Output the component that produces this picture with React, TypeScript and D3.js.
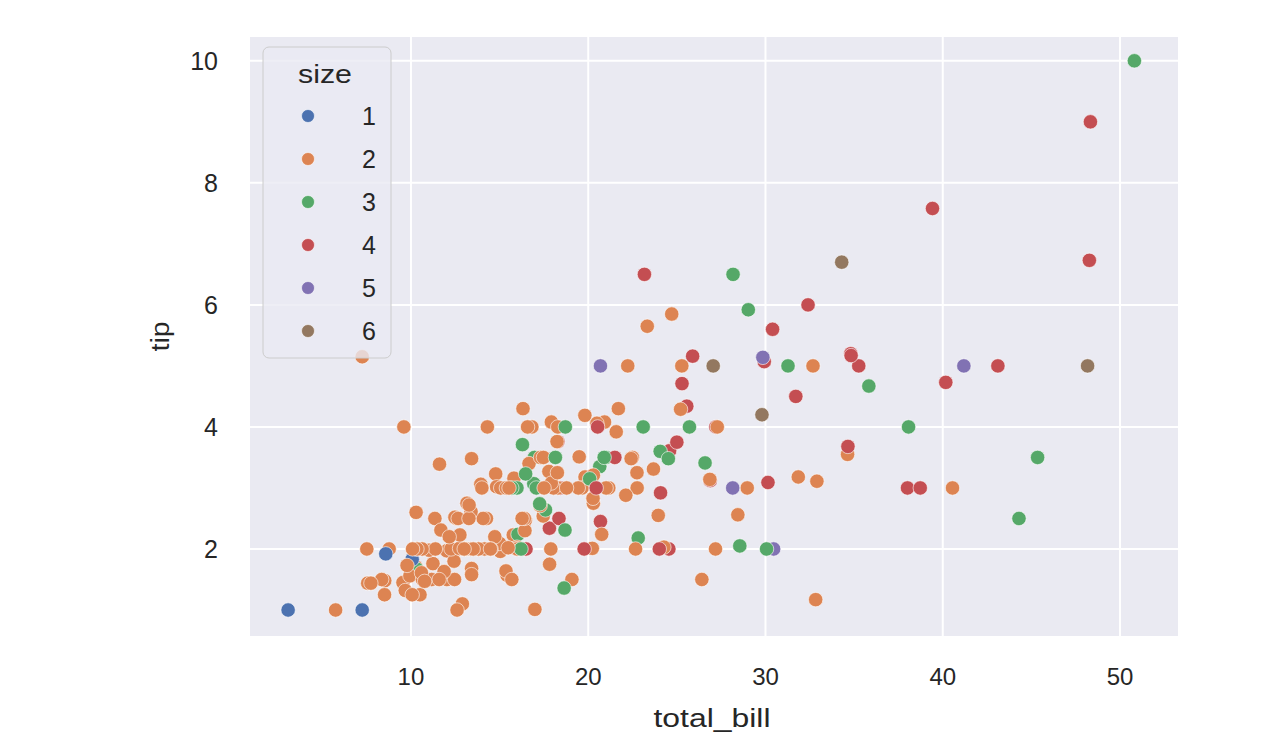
import { useEffect, useRef } from 'react';
import * as d3 from 'd3';

const WIDTH = 1280;
const HEIGHT = 753;

// tips dataset: total_bill, tip, size (party size)
const totalBill = [
  16.99, 10.34, 21.01, 23.68, 24.59, 25.29, 8.77, 26.88, 15.04, 14.78, 10.27, 35.26, 15.42, 18.43, 14.83, 21.58, 10.33, 16.29, 16.97, 20.65,
  17.92, 20.29, 15.77, 39.42, 19.82, 17.81, 13.37, 12.69, 21.7, 19.65, 9.55, 18.35, 15.06, 20.69, 17.78, 24.06, 16.31, 16.93, 18.69, 31.27,
  16.04, 17.46, 13.94, 9.68, 30.4, 18.29, 22.23, 32.4, 28.55, 18.04, 12.54, 10.29, 34.81, 9.94, 25.56, 19.49, 38.01, 26.41, 11.24, 48.27,
  20.29, 13.81, 11.02, 18.29, 17.59, 20.08, 16.45, 3.07, 20.23, 15.01, 12.02, 17.07, 26.86, 25.28, 14.73, 10.51, 17.92, 27.2, 22.76, 17.29,
  19.44, 16.66, 10.07, 32.68, 15.98, 34.83, 13.03, 18.28, 24.71, 21.16, 28.97, 22.49, 5.75, 16.32, 22.75, 40.17, 27.28, 12.03, 21.01, 12.46,
  11.35, 15.38, 44.3, 22.42, 20.92, 15.36, 20.49, 25.21, 18.24, 14.31, 14.0, 7.25, 38.07, 23.95, 25.71, 17.31, 29.93, 10.65, 12.43, 24.08,
  11.69, 13.42, 14.26, 15.95, 12.48, 29.8, 8.52, 14.52, 11.38, 22.82, 19.08, 20.27, 11.17, 12.26, 18.26, 8.51, 10.33, 14.15, 16.0, 13.16,
  17.47, 34.3, 41.19, 27.05, 16.43, 8.35, 18.64, 11.87, 9.78, 7.51, 14.07, 13.13, 17.26, 24.55, 19.77, 29.85, 48.17, 25.0, 13.39, 16.49,
  21.5, 12.66, 16.21, 13.81, 17.51, 24.52, 20.76, 31.71, 10.59, 10.63, 50.81, 15.81, 7.25, 31.85, 16.82, 32.9, 17.89, 14.48, 9.6, 34.63,
  34.65, 23.33, 45.35, 23.17, 40.55, 20.69, 20.9, 30.46, 18.15, 23.1, 15.69, 19.81, 28.44, 15.48, 16.58, 7.56, 10.34, 43.11, 13.0, 13.51,
  18.71, 12.74, 13.0, 16.4, 20.53, 16.47, 26.59, 38.73, 24.27, 12.76, 30.06, 25.89, 48.33, 13.27, 28.17, 12.9, 28.15, 11.59, 7.74, 30.14,
  12.16, 13.42, 8.58, 15.98, 13.42, 16.27, 10.09, 20.45, 13.28, 22.12, 24.01, 15.69, 11.61, 10.77, 15.53, 10.07, 12.6, 32.83, 35.83, 29.03,
  27.18, 22.67, 17.82, 18.78,
];

const tip = [
  1.01, 1.66, 3.5, 3.31, 3.61, 4.71, 2.0, 3.12, 1.96, 3.23, 1.71, 5.0, 1.57, 3.0, 3.02, 3.92, 1.67, 3.71, 3.5, 3.35,
  4.08, 2.75, 2.23, 7.58, 3.18, 2.34, 2.0, 2.0, 4.3, 3.0, 1.45, 2.5, 3.0, 2.45, 3.27, 3.6, 2.0, 3.07, 2.31, 5.0,
  2.24, 2.54, 3.06, 1.32, 5.6, 3.0, 5.0, 6.0, 2.05, 3.0, 2.5, 2.6, 5.2, 1.56, 4.34, 3.51, 3.0, 1.5, 1.76, 6.73,
  3.21, 2.0, 1.98, 3.76, 2.64, 3.15, 2.47, 1.0, 2.01, 2.09, 1.97, 3.0, 3.14, 5.0, 2.2, 1.25, 3.08, 4.0, 3.0, 2.71,
  3.0, 3.4, 1.83, 5.0, 2.03, 5.17, 2.0, 4.0, 5.85, 3.0, 3.0, 3.5, 1.0, 4.3, 3.25, 4.73, 4.0, 1.5, 3.0, 1.5,
  2.5, 3.0, 2.5, 3.48, 4.08, 1.64, 4.06, 4.29, 3.76, 4.0, 3.0, 1.0, 4.0, 2.55, 4.0, 3.5, 5.07, 1.5, 1.8, 2.92,
  2.31, 1.68, 2.5, 2.0, 2.52, 4.2, 1.48, 2.0, 2.0, 2.18, 1.5, 2.83, 1.5, 2.0, 3.25, 1.25, 2.0, 2.0, 2.0, 2.75,
  3.5, 6.7, 5.0, 5.0, 2.3, 1.5, 1.36, 1.63, 1.73, 2.0, 2.5, 2.0, 2.74, 2.0, 2.0, 5.14, 5.0, 3.75, 2.61, 2.0,
  3.5, 2.5, 2.0, 2.0, 3.0, 3.48, 2.24, 4.5, 1.61, 2.0, 10.0, 3.16, 5.15, 3.18, 4.0, 3.11, 2.0, 2.0, 4.0, 3.55,
  3.68, 5.65, 3.5, 6.5, 3.0, 5.0, 3.5, 2.0, 3.5, 4.0, 1.5, 4.19, 2.56, 2.02, 4.0, 1.44, 2.0, 5.0, 2.0, 2.0,
  4.0, 2.01, 2.0, 2.5, 4.0, 3.23, 3.41, 3.0, 2.03, 2.23, 2.0, 5.16, 9.0, 2.5, 6.5, 1.1, 3.0, 1.5, 1.44, 3.09,
  2.2, 3.48, 1.92, 3.0, 1.58, 2.5, 2.0, 3.0, 2.72, 2.88, 2.0, 3.0, 3.39, 1.47, 3.0, 1.25, 1.0, 1.17, 4.67, 5.92,
  2.0, 2.0, 1.75, 3.0,
];

const partySize = [
  2, 3, 3, 2, 4, 4, 2, 4, 2, 2, 2, 4, 2, 4, 2, 2, 3, 3, 3, 3,
  2, 2, 2, 4, 2, 4, 2, 2, 2, 2, 2, 4, 2, 4, 2, 3, 3, 3, 3, 3,
  3, 2, 2, 2, 4, 2, 2, 4, 3, 2, 2, 2, 4, 2, 4, 2, 4, 2, 2, 4,
  2, 2, 2, 4, 3, 3, 2, 1, 2, 2, 2, 3, 2, 2, 2, 2, 2, 4, 2, 2,
  2, 2, 1, 2, 2, 4, 2, 2, 2, 2, 2, 2, 2, 2, 2, 4, 2, 2, 2, 2,
  2, 2, 3, 2, 2, 2, 2, 2, 2, 2, 2, 1, 3, 2, 3, 2, 4, 2, 2, 4,
  2, 2, 2, 2, 2, 6, 2, 2, 2, 3, 2, 2, 2, 2, 2, 2, 2, 2, 2, 2,
  2, 6, 5, 6, 2, 2, 3, 2, 2, 2, 2, 2, 3, 4, 4, 5, 6, 4, 2, 4,
  4, 2, 3, 2, 2, 3, 2, 4, 2, 2, 3, 2, 2, 2, 2, 2, 2, 2, 2, 2,
  4, 2, 3, 4, 2, 5, 3, 5, 3, 3, 2, 2, 2, 2, 2, 2, 2, 4, 2, 2,
  3, 2, 2, 2, 4, 3, 3, 4, 2, 2, 3, 4, 4, 2, 3, 2, 5, 2, 2, 4,
  2, 2, 1, 3, 2, 2, 2, 4, 2, 2, 4, 3, 2, 2, 2, 2, 2, 2, 3, 3,
  2, 2, 2, 2,
];

const sizeLevels = [1, 2, 3, 4, 5, 6];
const palette = ['#4c72b0', '#dd8452', '#55a868', '#c44e52', '#8172b3', '#937860'];
const xTicks = [10, 20, 30, 40, 50];
const yTicks = [2, 4, 6, 8, 10];
const xLimits = [0.92, 53.27];
const yLimits = [0.574, 10.39];

const FONT = "'Liberation Sans', Arial, sans-serif";
const INK = '#262626';

export default function App() {
  const svgRef = useRef<SVGSVGElement | null>(null);

  useEffect(() => {
    if (!svgRef.current) return;
    const svg = d3.select(svgRef.current);
    svg.selectAll('*').remove();

    const margin = { top: 37, right: 102, bottom: 117, left: 250 };
    const plotRight = WIDTH - margin.right;
    const plotBottom = HEIGHT - margin.bottom;

    const x = d3.scaleLinear().domain(xLimits).range([margin.left, plotRight]);
    const y = d3.scaleLinear().domain(yLimits).range([plotBottom, margin.top]);
    const color = d3.scaleOrdinal<number, string>().domain(sizeLevels).range(palette);

    svg.append('rect').attr('width', WIDTH).attr('height', HEIGHT).attr('fill', '#ffffff');

    svg
      .append('rect')
      .attr('x', margin.left)
      .attr('y', margin.top)
      .attr('width', plotRight - margin.left)
      .attr('height', plotBottom - margin.top)
      .attr('fill', '#eaeaf2');

    const grid = svg.append('g').attr('stroke', '#ffffff').attr('stroke-width', 2);
    grid
      .selectAll('line.gx')
      .data(xTicks)
      .enter()
      .append('line')
      .attr('x1', (d) => x(d))
      .attr('x2', (d) => x(d))
      .attr('y1', margin.top)
      .attr('y2', plotBottom);
    grid
      .selectAll('line.gy')
      .data(yTicks)
      .enter()
      .append('line')
      .attr('y1', (d) => y(d))
      .attr('y2', (d) => y(d))
      .attr('x1', margin.left)
      .attr('x2', plotRight);

    // x tick labels
    svg
      .append('g')
      .selectAll('text')
      .data(xTicks)
      .enter()
      .append('text')
      .attr('x', (d) => x(d))
      .attr('y', plotBottom + 49)
      .attr('text-anchor', 'middle')
      .attr('font-family', FONT)
      .attr('font-size', 24)
      .attr('fill', INK)
      .text((d) => d);

    // y tick labels
    svg
      .append('g')
      .selectAll('text')
      .data(yTicks)
      .enter()
      .append('text')
      .attr('x', margin.left - 32)
      .attr('y', (d) => y(d) + 9)
      .attr('text-anchor', 'end')
      .attr('font-family', FONT)
      .attr('font-size', 25)
      .attr('fill', INK)
      .text((d) => d);

    svg
      .append('text')
      .attr('x', 712)
      .attr('y', plotBottom + 91)
      .attr('text-anchor', 'middle')
      .attr('font-family', FONT)
      .attr('font-size', 25)
      .attr('textLength', 117)
      .attr('lengthAdjust', 'spacingAndGlyphs')
      .attr('fill', INK)
      .text('total_bill');

    svg
      .append('text')
      .attr('transform', `translate(${169}, ${(margin.top + plotBottom) / 2}) rotate(-90)`)
      .attr('text-anchor', 'middle')
      .attr('font-family', FONT)
      .attr('font-size', 25)
      .attr('textLength', 30)
      .attr('lengthAdjust', 'spacingAndGlyphs')
      .attr('fill', INK)
      .text('tip');

    // points, in data order
    const points = totalBill.map((tb, i) => ({ tb, tip: tip[i], size: partySize[i] }));
    svg
      .append('g')
      .selectAll('circle')
      .data(points)
      .enter()
      .append('circle')
      .attr('cx', (d) => x(d.tb))
      .attr('cy', (d) => y(d.tip))
      .attr('r', 7.2)
      .attr('fill', (d) => color(d.size))
      .attr('stroke', '#ffffff')
      .attr('stroke-opacity', 0.6)
      .attr('stroke-width', 1);

    // legend
    const legend = svg.append('g').attr('transform', 'translate(263, 47)');
    legend
      .append('rect')
      .attr('width', 128)
      .attr('height', 311)
      .attr('rx', 6)
      .attr('fill', '#eaeaf2')
      .attr('fill-opacity', 0.8)
      .attr('stroke', '#cccccc')
      .attr('stroke-width', 1);
    legend
      .append('text')
      .attr('x', 62)
      .attr('y', 36)
      .attr('text-anchor', 'middle')
      .attr('font-family', FONT)
      .attr('font-size', 25)
      .attr('textLength', 54)
      .attr('lengthAdjust', 'spacingAndGlyphs')
      .attr('fill', INK)
      .text('size');
    const entries = legend
      .selectAll('g.entry')
      .data(sizeLevels)
      .enter()
      .append('g')
      .attr('transform', (_, i) => `translate(0, ${69 + i * 43})`);
    entries
      .append('circle')
      .attr('cx', 45)
      .attr('cy', 0)
      .attr('r', 6.5)
      .attr('fill', (d) => color(d))
      .attr('stroke', '#ffffff')
      .attr('stroke-opacity', 0.6)
      .attr('stroke-width', 1);
    entries
      .append('text')
      .attr('x', 99)
      .attr('y', 9)
      .attr('font-family', FONT)
      .attr('font-size', 25)
      .attr('fill', INK)
      .text((d) => d);
  }, []);

  return <svg ref={svgRef} width={WIDTH} height={HEIGHT} style={{ display: 'block', margin: '-8px' }} />;
}
